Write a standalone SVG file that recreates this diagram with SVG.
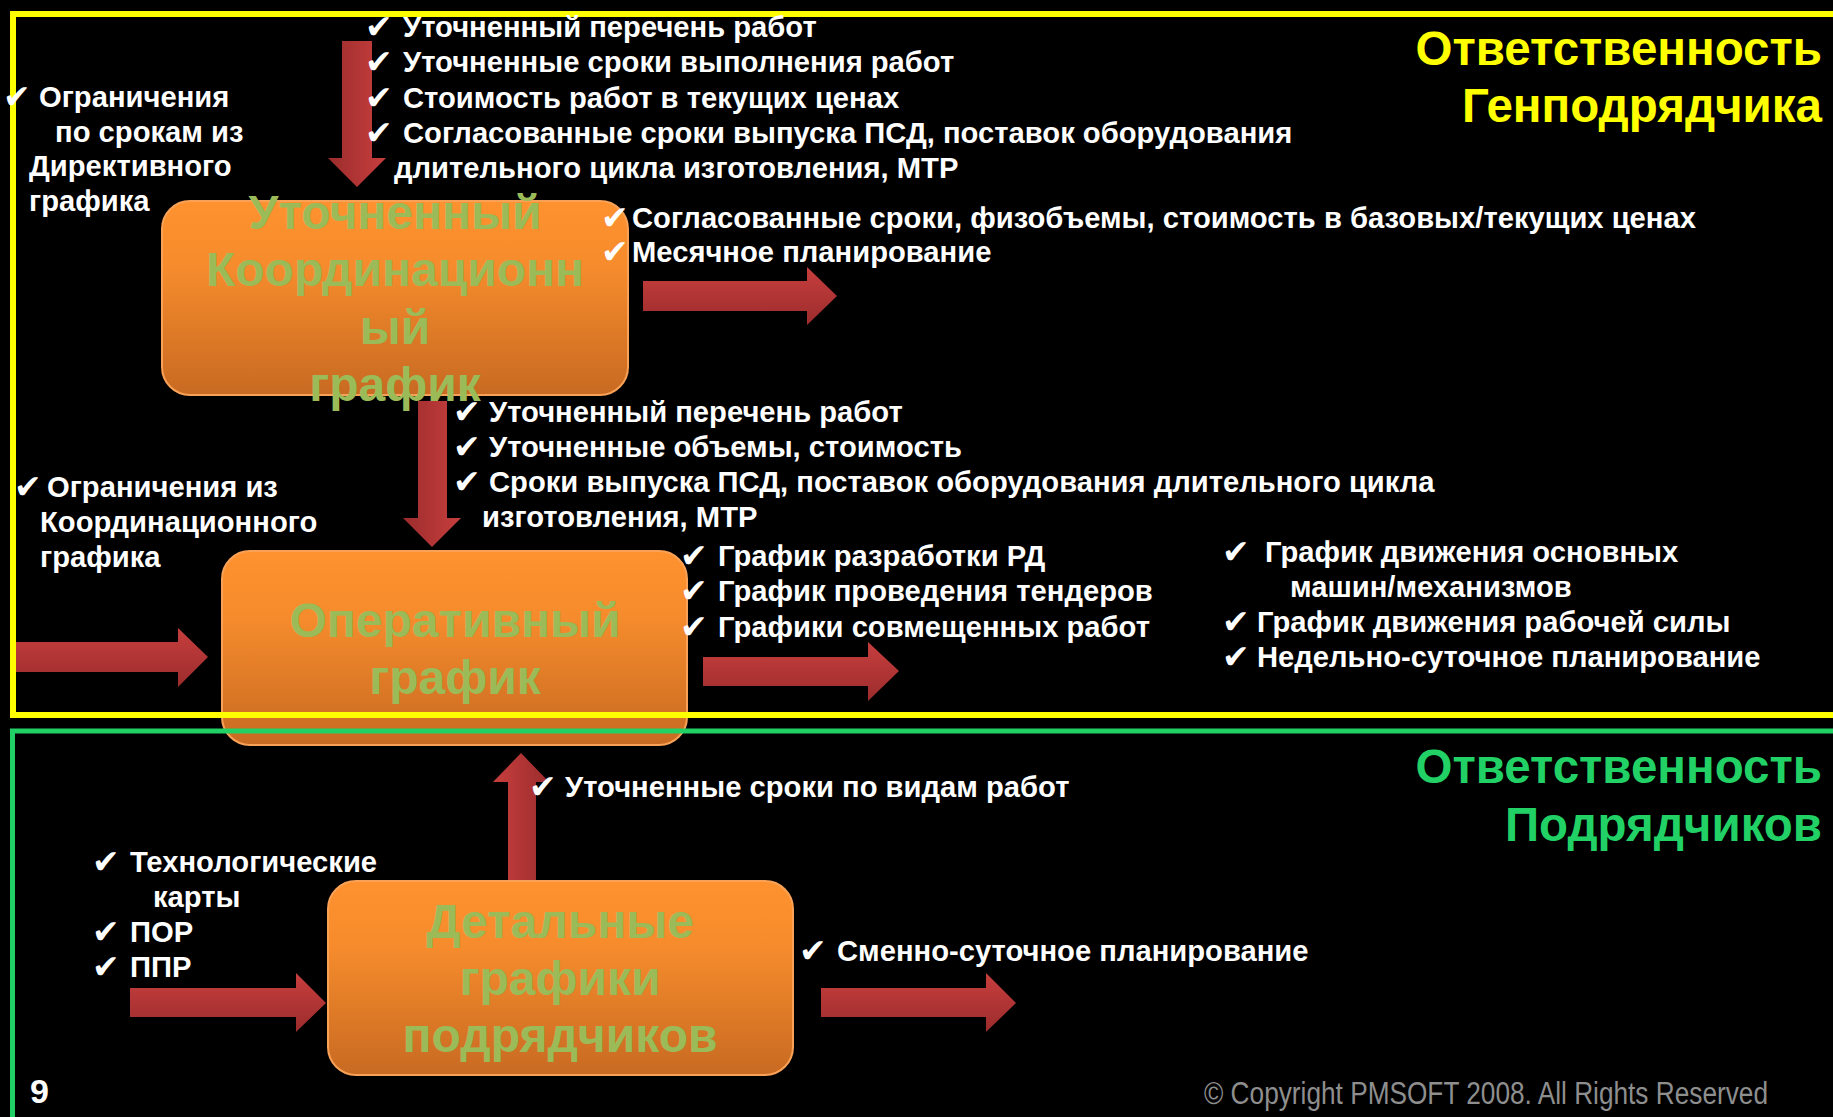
<svg xmlns="http://www.w3.org/2000/svg" width="1833" height="1117" viewBox="0 0 1833 1117">
<defs>
<linearGradient id="gBox" x1="0" y1="0" x2="0" y2="1">
<stop offset="0" stop-color="#FF922F"/>
<stop offset="0.35" stop-color="#F58B2C"/>
<stop offset="1" stop-color="#C86A22"/>
</linearGradient>
<linearGradient id="gH" x1="0" y1="0" x2="0" y2="1">
<stop offset="0" stop-color="#C73E3E"/>
<stop offset="1" stop-color="#9C2C2C"/>
</linearGradient>
<linearGradient id="gD" x1="0" y1="0" x2="1" y2="0">
<stop offset="0" stop-color="#9C2C2C"/>
<stop offset="1" stop-color="#C73E3E"/>
</linearGradient>
<linearGradient id="gU" x1="0" y1="0" x2="1" y2="0">
<stop offset="0" stop-color="#C73E3E"/>
<stop offset="1" stop-color="#9C2C2C"/>
</linearGradient>
<style>
.t{font-family:"Liberation Sans",Arial,sans-serif;font-weight:bold;font-size:29.2px;fill:#FFFFFF}
.ck{font-family:"DejaVu Sans",sans-serif;font-weight:bold;font-size:33px;fill:#FFFFFF}
.bx{fill:url(#gBox);stroke:#F9A257;stroke-width:2}
.bt{font-family:"Liberation Sans",Arial,sans-serif;font-weight:bold;font-size:48px;fill:#9BBB59;text-anchor:middle}
.ti{font-family:"Liberation Sans",Arial,sans-serif;font-weight:bold;font-size:47.5px;text-anchor:end}
</style>
</defs>
<rect x="0" y="0" width="1833" height="1117" fill="#000000"/>

<g id="connectors">
<polygon fill="url(#gD)" points="342,41 372,41 372,158 386,158 357,187 328,158 342,158"/>
<polygon fill="url(#gH)" points="643,281 807,281 807,267 837,296 807,325 807,311 643,311"/>
<polygon fill="url(#gD)" points="418,401 447,401 447,518 461,518 432,547 403,518 418,518"/>
<polygon fill="url(#gH)" points="16,642 178,642 178,628 208,657 178,687 178,672 16,672"/>
<polygon fill="url(#gH)" points="703,657 868,657 868,642 899,671 868,701 868,686 703,686"/>
<polygon fill="url(#gU)" points="508,881 508,782 493,782 521,753 549,782 536,782 536,881"/>
<polygon fill="url(#gH)" points="130,988 296,988 296,973 326,1003 296,1032 296,1017 130,1017"/>
<polygon fill="url(#gH)" points="821,988 986,988 986,973 1016,1003 986,1032 986,1017 821,1017"/>
</g>

<g id="node-coord">
<rect class="bx" x="162" y="201" width="466" height="194" rx="28"/>
</g>
<g id="node-oper">
<rect class="bx" x="222" y="551" width="465" height="194" rx="28"/>
</g>
<g id="node-detail">
<rect class="bx" x="328" y="881" width="465" height="194" rx="28"/>
</g>

<g id="frames" fill="none">
<rect x="13" y="14" width="1840" height="701" stroke="#FFFF00" stroke-width="6"/>
<rect x="12.5" y="731" width="1840" height="500" stroke="#21D165" stroke-width="5"/>
</g>

<g id="node-text">
<text class="bt" x="395" y="229">Уточненный</text>
<text class="bt" x="395" y="286">Координационн</text>
<text class="bt" x="395" y="344">ый</text>
<text class="bt" x="395" y="401">график</text>
<text class="bt" x="455" y="637">Оперативный</text>
<text class="bt" x="455" y="694">график</text>
<text class="bt" x="560" y="938">Детальные</text>
<text class="bt" x="560" y="995">графики</text>
<text class="bt" x="560" y="1052">подрядчиков</text>
</g>

<g id="titles">
<text class="ti" x="1822" y="65" fill="#FFFF00">Ответственность</text>
<text class="ti" x="1822" y="122" fill="#FFFF00">Генподрядчика</text>
<text class="ti" x="1822" y="783" fill="#21D165">Ответственность</text>
<text class="ti" x="1822" y="841" fill="#21D165">Подрядчиков</text>
</g>

<g id="labels">
<text class="ck" x="365" y="38">✔</text><text class="t" x="403" y="37">Уточненный перечень работ</text>
<text class="ck" x="365" y="73">✔</text><text class="t" x="403" y="72">Уточненные сроки выполнения работ</text>
<text class="ck" x="365" y="109">✔</text><text class="t" x="403" y="108">Стоимость работ в текущих ценах</text>
<text class="ck" x="365" y="144">✔</text><text class="t" x="403" y="143">Согласованные сроки выпуска ПСД, поставок оборудования</text>
<text class="t" x="394" y="178">длительного цикла изготовления, МТР</text>

<text class="ck" x="601" y="229">✔</text><text class="t" x="632" y="228">Согласованные сроки, физобъемы, стоимость в базовых/текущих ценах</text>
<text class="ck" x="601" y="263">✔</text><text class="t" x="632" y="262">Месячное планирование</text>

<text class="ck" x="3" y="108">✔</text><text class="t" x="39" y="107">Ограничения</text>
<text class="t" x="55" y="142">по срокам из</text>
<text class="t" x="29" y="176">Директивного</text>
<text class="t" x="29" y="211">графика</text>

<text class="ck" x="453" y="423">✔</text><text class="t" x="489" y="422">Уточненный перечень работ</text>
<text class="ck" x="453" y="458">✔</text><text class="t" x="489" y="457">Уточненные объемы, стоимость</text>
<text class="ck" x="453" y="493">✔</text><text class="t" x="489" y="492">Сроки выпуска ПСД, поставок оборудования длительного цикла</text>
<text class="t" x="482" y="527">изготовления, МТР</text>

<text class="ck" x="14" y="498">✔</text><text class="t" x="47" y="497">Ограничения из</text>
<text class="t" x="40" y="532">Координационного</text>
<text class="t" x="40" y="567">графика</text>

<text class="ck" x="680" y="567">✔</text><text class="t" x="718" y="566">График разработки РД</text>
<text class="ck" x="680" y="602">✔</text><text class="t" x="718" y="601">График проведения тендеров</text>
<text class="ck" x="680" y="638">✔</text><text class="t" x="718" y="637">Графики совмещенных работ</text>

<text class="ck" x="1222" y="563">✔</text><text class="t" x="1265" y="562">График движения основных</text>
<text class="t" x="1290" y="597">машин/механизмов</text>
<text class="ck" x="1222" y="633">✔</text><text class="t" x="1257" y="632">График движения рабочей силы</text>
<text class="ck" x="1222" y="668">✔</text><text class="t" x="1257" y="667">Недельно-суточное планирование</text>

<text class="ck" x="529" y="798">✔</text><text class="t" x="565" y="797">Уточненные сроки по видам работ</text>
<text class="ck" x="92" y="873">✔</text><text class="t" x="130" y="872">Технологические</text>
<text class="t" x="153" y="907">карты</text>
<text class="ck" x="92" y="943">✔</text><text class="t" x="130" y="942">ПОР</text>
<text class="ck" x="92" y="978">✔</text><text class="t" x="130" y="977">ППР</text>
<text class="ck" x="799" y="962">✔</text><text class="t" x="837" y="961">Сменно-суточное планирование</text>

<text x="30" y="1103" font-family="Liberation Sans, Arial, sans-serif" font-weight="bold" font-size="34" fill="#FFFFFF">9</text>
<text x="1204" y="1104" font-family="Liberation Sans Narrow, Liberation Sans, Arial, sans-serif" font-size="31" fill="#8E8E8E" textLength="564" lengthAdjust="spacingAndGlyphs">© Copyright PMSOFT 2008. All Rights Reserved</text>
</g>
</svg>
